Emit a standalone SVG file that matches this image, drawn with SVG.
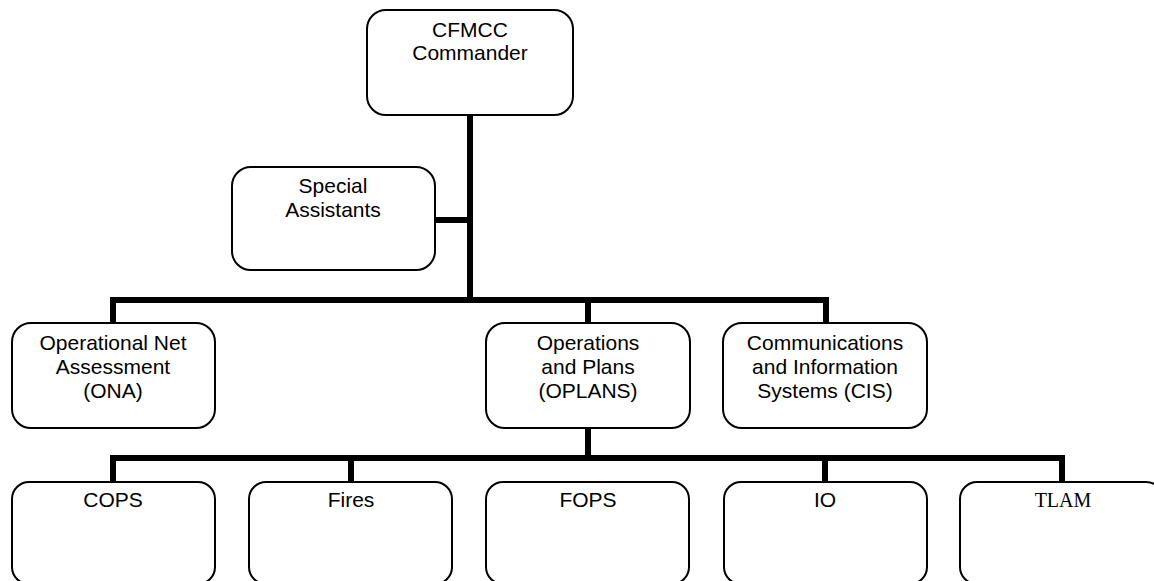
<svg xmlns="http://www.w3.org/2000/svg" width="1154" height="581" viewBox="0 0 1154 581">
  <style>
    .box { fill: #ffffff; stroke: #000000; stroke-width: 2; }
    .lbl { font-family: "Liberation Sans", Arial, sans-serif; font-size: 21px; fill: #000000; text-anchor: middle; }
    .serif { font-family: "Liberation Serif", "Times New Roman", serif; font-size: 20px; }
    .link { fill: none; stroke: #000000; stroke-width: 6; stroke-linecap: butt; stroke-linejoin: miter; }
  </style>
  <rect width="1154" height="581" fill="#ffffff"/>

  <!-- connectors -->
  <g id="connectors">
    <path class="link" d="M470 115 V300"/>
    <path class="link" d="M435 220 H470"/>
    <path class="link" d="M113 323 V300 H826 V323"/>
    <path class="link" d="M588 300 V323"/>
    <path class="link" d="M588 428 V458"/>
    <path class="link" d="M113 482 V458 H1062 V482"/>
    <path class="link" d="M351 458 V482"/>
    <path class="link" d="M825 458 V482"/>
  </g>

  <g id="cfmcc-commander">
    <rect class="box" x="367" y="10" width="206" height="105" rx="19"/>
    <text class="lbl" x="470" y="37">CFMCC</text>
    <text class="lbl" x="470" y="60">Commander</text>
  </g>

  <g id="special-assistants">
    <rect class="box" x="232" y="167" width="203" height="103" rx="19"/>
    <text class="lbl" x="333" y="193">Special</text>
    <text class="lbl" x="333" y="217">Assistants</text>
  </g>

  <g id="ona">
    <rect class="box" x="12" y="323" width="203" height="105" rx="19"/>
    <text class="lbl" x="113" y="350">Operational Net</text>
    <text class="lbl" x="113" y="374">Assessment</text>
    <text class="lbl" x="113" y="398">(ONA)</text>
  </g>

  <g id="oplans">
    <rect class="box" x="486" y="323" width="204" height="105" rx="19"/>
    <text class="lbl" x="588" y="350">Operations</text>
    <text class="lbl" x="588" y="374">and Plans</text>
    <text class="lbl" x="588" y="398">(OPLANS)</text>
  </g>

  <g id="cis">
    <rect class="box" x="723" y="323" width="204" height="105" rx="19"/>
    <text class="lbl" x="825" y="350">Communications</text>
    <text class="lbl" x="825" y="374">and Information</text>
    <text class="lbl" x="825" y="398">Systems (CIS)</text>
  </g>

  <g id="cops">
    <rect class="box" x="12" y="482" width="203" height="102" rx="17"/>
    <text class="lbl" x="113" y="507">COPS</text>
  </g>

  <g id="fires">
    <rect class="box" x="249" y="482" width="203" height="102" rx="17"/>
    <text class="lbl" x="351" y="507">Fires</text>
  </g>

  <g id="fops">
    <rect class="box" x="486" y="482" width="203" height="102" rx="17"/>
    <text class="lbl" x="588" y="507">FOPS</text>
  </g>

  <g id="io">
    <rect class="box" x="724" y="482" width="203" height="102" rx="17"/>
    <text class="lbl" x="825" y="507">IO</text>
  </g>

  <g id="tlam">
    <rect class="box" x="960" y="482" width="203" height="102" rx="17"/>
    <text class="lbl serif" x="1063" y="507">TLAM</text>
  </g>
</svg>
